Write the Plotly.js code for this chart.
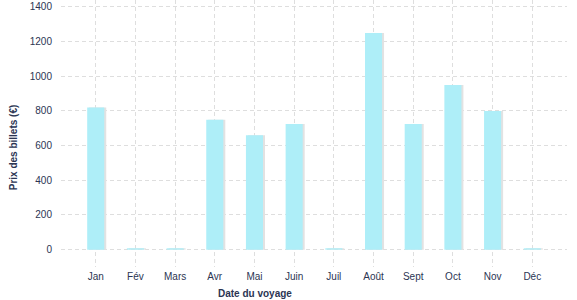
<!DOCTYPE html>
<html><head><meta charset="utf-8">
<script src="https://cdn.plot.ly/plotly-3.0.1.min.js"></script>
<style>html,body{margin:0;padding:0;background:#fff}#c{width:577px;height:300px}</style>
</head><body><div id="c"></div>
<script>
const months = ["Jan","Fév","Mars","Avr","Mai","Juin","Juil","Août","Sept","Oct","Nov","Déc"];
const prices = [820, 8, 8, 750, 660, 725, 8, 1250, 725, 950, 800, 8];
const yTicks = [0, 200, 400, 600, 800, 1000, 1200, 1400];
const xTitle = "Date du voyage";
const yTitle = "Prix des billets (€)";

const font = {family: "Liberation Sans, Arial, sans-serif", size: 10, color: "#2b3553"};
const bw = 0.43;
const traces = [
  {type: "bar", x: months, y: prices, width: bw, offset: -bw/2 + 0.05,
   marker: {color: "#e2e2e2"}, hoverinfo: "skip", showlegend: false},
  {type: "bar", x: months, y: prices, width: bw, offset: -bw/2,
   marker: {color: "#aeeef8"}, showlegend: false}
];
const layout = {
  width: 577, height: 300,
  margin: {l: 61, r: 10, t: 0, b: 33},
  barmode: "overlay",
  paper_bgcolor: "#fff", plot_bgcolor: "#fff",
  font: font,
  xaxis: {type: "category", range: [-0.875, 11.875], showgrid: true, gridcolor: "#dedede",
          griddash: "4px,3px", gridwidth: 1, zeroline: false, showline: false, ticks: "",
          tickfont: font, ticklabelstandoff: 2},
  yaxis: {range: [-100, 1440], tickvals: yTicks, showgrid: true, gridcolor: "#dedede",
          griddash: "4px,3px", gridwidth: 1, zeroline: false, showline: false, ticks: "",
          tickfont: font, ticklabelstandoff: 8, ticklabeloverflow: "allow"},
  annotations: [
    {text: "<b>" + xTitle + "</b>", xref: "paper", yref: "paper", x: (255-61)/506, y: -0.098,
     xanchor: "center", yanchor: "middle", showarrow: false, font: {family: font.family, size: 10, color: font.color}},
    {text: "<b>" + yTitle + "</b>", xref: "paper", yref: "paper", x: -0.094, y: 0.45,
     xanchor: "center", yanchor: "middle", textangle: -90, showarrow: false, font: {family: font.family, size: 10, color: font.color}}
  ]
};
Plotly.newPlot("c", traces, layout, {displayModeBar: false, staticPlot: true});
</script></body></html>
